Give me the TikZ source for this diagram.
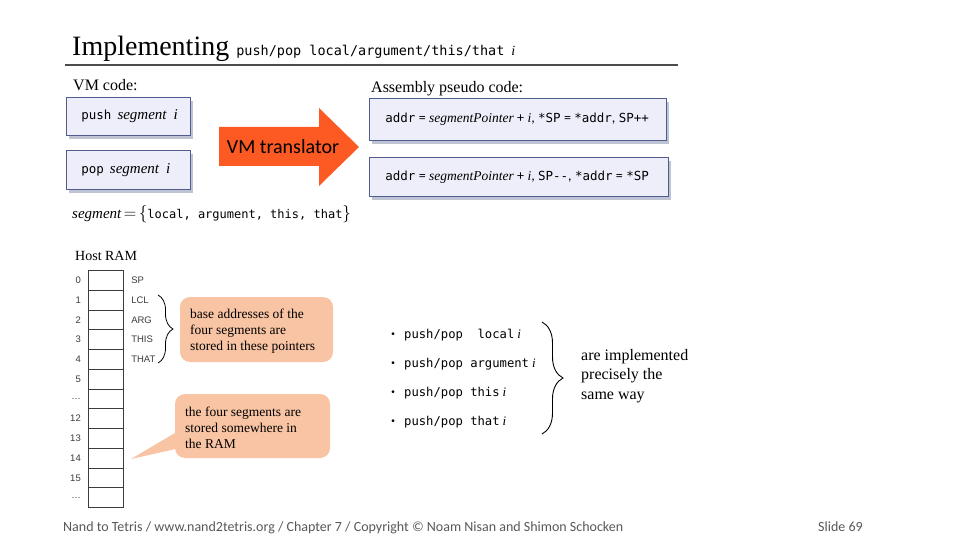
\documentclass[tikz,border=0pt]{standalone}
\usepackage{fontspec}
\setmainfont{Liberation Serif}
\setsansfont{Carlito}
\setmonofont{DejaVu Sans Mono}
\newfontfamily\arialf{Liberation Sans}
\usetikzlibrary{shadows,decorations.pathreplacing,calc}
\definecolor{boxfill}{RGB}{238,238,250}
\definecolor{boxdraw}{RGB}{80,92,140}
\definecolor{arroworange}{RGB}{252,90,34}
\definecolor{calloutfill}{RGB}{248,196,164}
\definecolor{footgray}{RGB}{89,89,89}
\definecolor{ramgray}{RGB}{60,60,60}
\tikzset{
  codebox/.style={draw=boxdraw, line width=0.8pt, fill=boxfill, anchor=north west, inner ysep=0pt, align=left,
    drop shadow={shadow xshift=3pt, shadow yshift=-4pt, fill=boxdraw!80, opacity=0.45}},
  ramcell/.style={draw=ramgray, line width=1.1pt, minimum width=35pt, minimum height=19.75pt, inner sep=0pt},
  ramnum/.style={anchor=east, inner sep=0pt, font=\arialf\fontsize{9.5}{10}\selectfont, text=ramgray},
  ramptr/.style={anchor=west, inner sep=0pt, font=\arialf\fontsize{9.5}{10}\selectfont, text=ramgray},
  callout/.style={fill=calloutfill, rounded corners=10pt},
  callouttext/.style={anchor=west, inner sep=0pt, align=left, font=\fontsize{13.5}{16}\selectfont},
  bullet/.style={anchor=west, inner sep=0pt, font=\ttfamily\fontsize{12.2}{14}\selectfont},
  hdr/.style={anchor=base west, inner sep=0pt, font=\fontsize{16}{18}\selectfont},
  foot/.style={anchor=base west, inner sep=0pt, text=footgray, font=\sffamily\fontsize{14}{16}\selectfont}
}
\newcommand{\cm}[1]{{\ttfamily\fontsize{12.5}{14}\selectfont #1}}
\newcommand{\ci}[1]{{\itshape\fontsize{13.5}{14}\selectfont #1}}
\newcommand{\cs}[1]{{\sffamily\fontsize{14}{14}\selectfont #1}}
\begin{document}
\begin{tikzpicture}[x=1pt,y=-1pt]
\useasboundingbox (0,0) rectangle (955,537);
\fill[white] (0,0) rectangle (955,537);

% title
\node[anchor=base west, inner sep=0pt] (title) at (72,56)
  {\fontsize{28}{30}\selectfont Implementing\ {\ttfamily\fontsize{13.5}{14}\selectfont push/pop local/argument/this/that} {\fontsize{14}{14}\selectfont\itshape i}};
\coordinate (tl) at (65,65);
\coordinate (tr) at (678,65);
\draw[line width=2pt, black!70] (tl) -- (tr);

% VM code
\node[hdr] (vmcode) at (73,91) {VM code:};
\node[codebox, minimum width=124pt, minimum height=38pt, text width=110pt, inner xsep=7pt] (push) at (66,97)
  {\hspace*{8pt}{\ttfamily\fontsize{12.5}{14}\selectfont push}\hspace{6pt}{\itshape\fontsize{15}{16}\selectfont segment\hspace{7pt}i}};
\node[codebox, minimum width=124pt, minimum height=39pt, text width=110pt, inner xsep=7pt] (pop) at (66,150)
  {\hspace*{8pt}{\ttfamily\fontsize{12.5}{14}\selectfont pop}\hspace{6pt}{\itshape\fontsize{15}{16}\selectfont segment\hspace{7pt}i}};

% arrow
\fill[arroworange] (219,127) -- (319,127) -- (319,108) -- (359,147) -- (319,186) -- (319,166) -- (219,166) -- cycle;
\node[inner sep=0pt, font=\sffamily\fontsize{20}{22}\selectfont] (vmt) at (283,147) {VM translator};

\node[anchor=base west, inner sep=0pt] (segset) at (72,219)
  {{\itshape\fontsize{15}{16}\selectfont segment} {\fontsize{16}{16}\selectfont$=$} {\fontsize{16}{16}\selectfont$\{$}{\ttfamily\fontsize{12}{14}\selectfont local, argument, this, that}{\fontsize{16}{16}\selectfont$\}$}};

% Assembly
\node[hdr] (asmh) at (371,93) {Assembly pseudo code:};
\node[codebox, minimum width=297pt, minimum height=42pt, text width=265pt, inner xsep=16pt] (asma) at (369,98)
  {\cm{addr}\cs{ = }\ci{segmentPointer}\cs{ + }\ci{i}\cs{, }\cm{*SP}\cs{ = }\cm{*addr}\cs{, }\cm{SP++}};
\node[codebox, minimum width=299pt, minimum height=39pt, text width=267pt, inner xsep=16pt] (asmb) at (369,157)
  {\cm{addr}\cs{ = }\ci{segmentPointer}\cs{ + }\ci{i}\cs{, }\cm{SP-{}-}\cs{, }\cm{*addr}\cs{ = }\cm{*SP}};

% Host RAM
\node[anchor=base west, inner sep=0pt, font=\fontsize{14}{16}\selectfont] (ramh) at (75,261) {Host RAM};
\foreach \k/\lab in {0/0,1/1,2/2,3/3,4/4,5/5,6/{\ldots},7/12,8/13,9/14,10/15,11/{\ldots}}{
  \node[ramcell, anchor=north west] (cell\k) at (88,{270+19.75*\k}) {};
  \node[ramnum] (num\k) at ($(cell\k.west)+(-7pt,0)$) {\lab};
}
\foreach \k/\lab in {0/SP,1/LCL,2/ARG,3/THIS,4/THAT}{
  \node[ramptr] (ptr\k) at ($(cell\k.east)+(7pt,0)$) {\lab};
}
\coordinate (b1t) at (158,295);
\coordinate (b1b) at (158,363);
\draw[line width=0.8pt, decorate, decoration={brace, amplitude=15pt}] (b1t) -- (b1b);

\fill[callout] (180,297) rectangle (333,362);
\node[callouttext] (c1) at (190,331) {base addresses of the\\four segments are\\stored in these pointers};

\coordinate (ptip) at (131,459);
\fill[calloutfill] (ptip) -- (180,430) -- (180,448) -- cycle;
\fill[callout] (175,394) rectangle (330,458);
\node[callouttext] (c2) at (185,428) {the four segments are\\stored somewhere in\\the RAM};

% bullets
\foreach \k/\t in {0/{push/pop\ \ local},1/{push/pop argument},2/{push/pop this},3/{push/pop that}}{
  \node[anchor=center, inner sep=0pt, font=\arialf\fontsize{10}{12}\selectfont] (dot\k) at (393,{335+29*\k}) {•};
  \node[bullet] (bl\k) at (404,{335+29*\k}) {\t\hspace{3pt}{\rmfamily\itshape\fontsize{13}{14}\selectfont i}};
}
\coordinate (b2t) at (542,322);
\coordinate (b2b) at (542,434);
\draw[line width=0.9pt, decorate, decoration={brace, amplitude=21pt}] (b2t) -- (b2b);
\node[anchor=west, inner sep=0pt, align=left, font=\fontsize{16}{19.5}\selectfont] (same) at (581,376) {are implemented\\precisely the\\same way};

% footer
\node[foot] (footl) at (63,531) {Nand to Tetris / www.nand2tetris.org / Chapter 7 / Copyright © Noam Nisan and Shimon Schocken};
\node[foot] (footr) at (818,531) {Slide 69};
\end{tikzpicture}
\end{document}
